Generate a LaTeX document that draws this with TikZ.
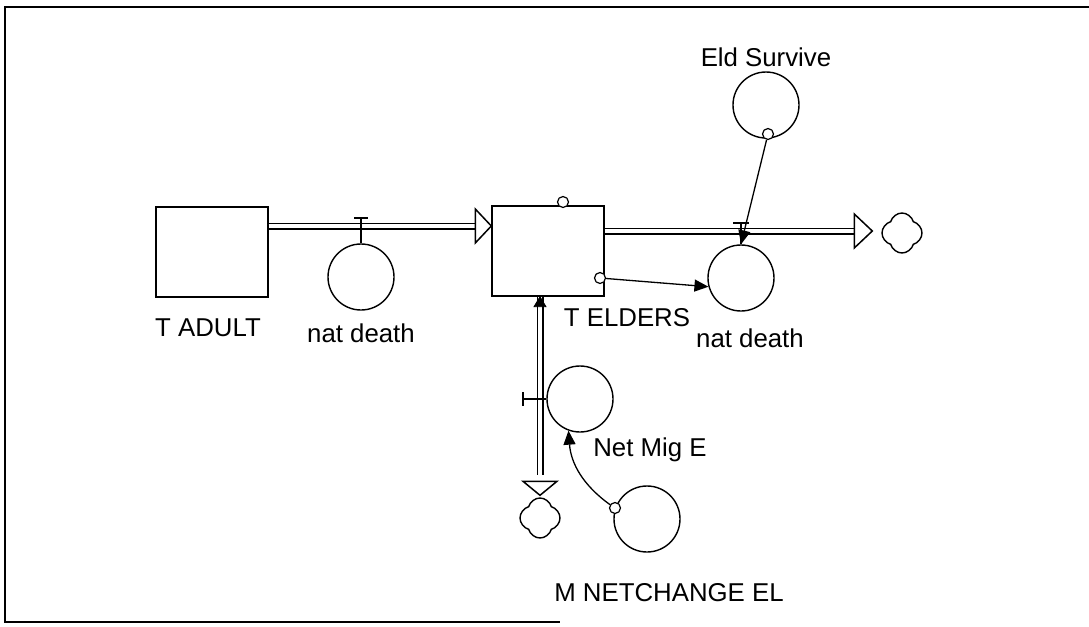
\documentclass[tikz,border=0pt]{standalone}
\usepackage{fontspec}
\setmainfont{Liberation Sans}
\usetikzlibrary{arrows.meta,shapes.symbols}
\begin{document}
\begin{tikzpicture}[
  x=0.5pt, y=-0.5pt, font=\fontsize{12.9}{15}\selectfont,
  stock/.style={draw,line width=0.7pt,minimum width=56pt,minimum height=45pt,inner sep=0pt},
  aux/.style={draw,circle,line width=0.7pt,minimum size=33pt,inner sep=0pt},
  tap/.style={draw,circle,line width=0.6pt,minimum size=5.5pt,inner sep=0pt,fill=white},
  sink/.style={draw,cloud,cloud puffs=4,cloud puff arc=150,aspect=1,line width=0.7pt,
               minimum width=20pt,minimum height=20pt,inner sep=0pt},
  pipe/.style={double distance=1.9pt,line width=0.8pt},
  flowhead/.style={draw,fill=white,line width=0.75pt,line join=miter},
  inhead/.style={fill=black},
  valve/.style={line width=0.65pt},
  info/.style={line width=0.65pt,-{Triangle[length=7pt,width=6pt]}},
  lbl/.style={inner sep=0pt}]

\useasboundingbox (0,0) rectangle (1089,627);
\draw[line width=1.1pt] (1089,7) -- (5,7) -- (5,622) -- (560,622);

\node[stock] (tadult) at (212,252) {};
\node[stock] (telders) at (548,251) {};
\node[lbl] (ltadult) at (208,328) {T ADULT};
\node[lbl] (ltelders) at (627,318) {T ELDERS};

\node[aux] (adultdeath) at (361,277) {};
\node[aux] (elderdeath) at (741,278) {};
\node[aux] (eldsurvive) at (766,105) {};
\node[aux] (netmig) at (580,399) {};
\node[aux] (mnetchange) at (647,519) {};
\node[lbl] (ladultdeath) at (361,333) {nat death};
\node[lbl] (lelderdeath) at (750,338) {nat death};
\node[lbl] (leldsurvive) at (766,57) {Eld Survive};
\node[lbl] (lnetmig) at (650,450) {Net Mig E};
\node[lbl] (lmnetchange) at (669,593) {M NETCHANGE EL};

\node[sink] (sinkr) at (902,233) {};
\node[sink] (sinkb) at (540,518) {};

\coordinate (v1) at (361,226);
\coordinate (v2) at (741,231);
\coordinate (v3) at (540,399);

\draw[pipe] (tadult.east |- v1) -- ([xshift=-8pt]telders.west |- v1);
\draw[flowhead] (telders.west |- v1) -- ++(-16,-17) -- ++(0,34) -- cycle;

\draw[pipe] (telders.east |- v2) -- ([xshift=-13pt]sinkr.west |- v2);
\draw[flowhead] ([xshift=-4.5pt]sinkr.west |- v2) -- ++(-18,-17) -- ++(0,34) -- cycle;

\draw[pipe] (telders.south -| v3) -- ([yshift=11pt]sinkb.north -| v3);
\draw[inhead] (telders.south -| v3) -- ++(-6,10) -- ++(12,0) -- cycle;
\draw[flowhead] ([yshift=1pt]sinkb.north -| v3) -- ++(-17,-14) -- ++(34,0) -- cycle;

\draw[valve] (adultdeath.north) -- (adultdeath.north |- 0,218) ++(-7,0) -- ++(14,0);
\draw[valve] (elderdeath.north) -- (elderdeath.north |- 0,223) ++(-8,0) -- ++(16,0);
\draw[valve] (netmig.west) -- (netmig.west -| 523,0) ++(0,-7) -- ++(0,14);

\node[tap] (taptop) at (563,202) {};
\node[tap] (tapright) at (600,278) {};
\node[tap] (tapsurv) at (768,134) {};
\node[tap] (tapchange) at (615,508) {};

\draw[info] (tapright) -- (elderdeath.195);
\draw[info] (tapsurv) -- (elderdeath.north);
\draw[info] (tapchange) to[bend left=25] (netmig.250);
\end{tikzpicture}
\end{document}
